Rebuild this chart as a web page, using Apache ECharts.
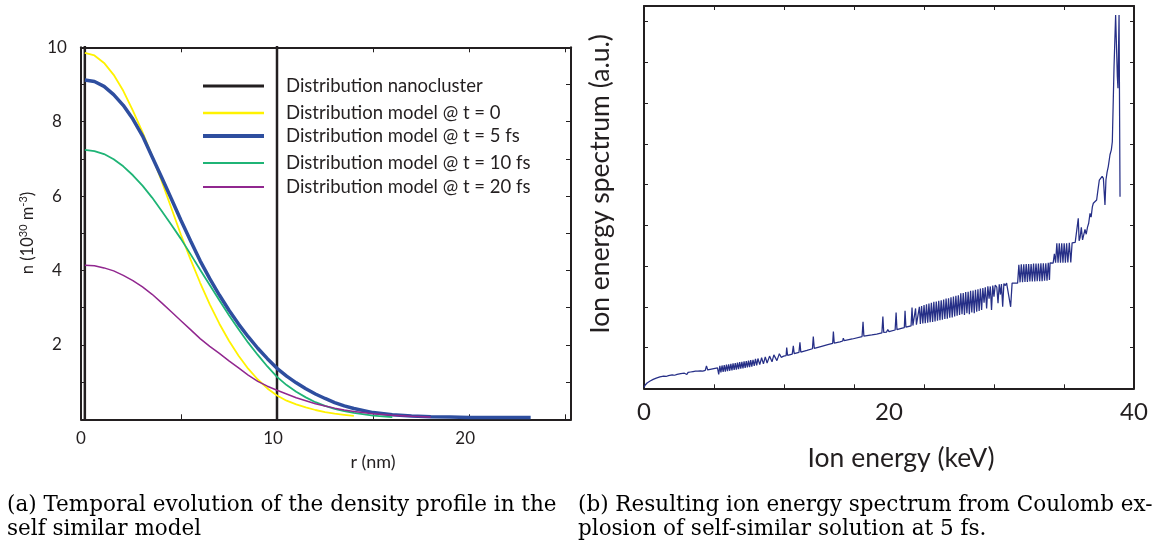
<!DOCTYPE html>
<html><head><meta charset="utf-8">
<script src="https://cdn.jsdelivr.net/npm/echarts@6/dist/echarts.min.js"></script>
<style>html,body{margin:0;padding:0;background:#fff}#c{width:1159px;height:547px}</style>
</head><body><div id="c"></div>
<script>
// ---------- Panel (a): density profiles ----------
const radius = [0,0.5,1,1.5,2,2.5,3,3.5,4,4.5,5,5.5,6,6.5,7,7.5,8,8.5,9,9.5,10,10.5,11,11.5,12,12.5,13,13.5,14,15,16,17,18,19,20,21,22,23.2];
const nT0  = [9.85,9.78,9.58,9.26,8.83,8.30,7.72,7.08,6.40,5.68,4.96,4.30,3.67,3.09,2.57,2.11,1.71,1.36,1.07,0.83,0.64,0.50,0.40,0.32,0.25,0.19,0.15,0.12,0.09];
const nT5  = [9.12,9.08,8.95,8.73,8.44,8.07,7.62,7.06,6.50,5.93,5.35,4.80,4.26,3.78,3.34,2.93,2.56,2.22,1.91,1.63,1.37,1.16,0.98,0.82,0.68,0.56,0.45,0.36,0.29,0.18,0.12,0.09,0.07,0.06,0.05,0.05,0.05,0.05];
const nT10 = [7.24,7.21,7.13,6.99,6.80,6.56,6.28,5.96,5.60,5.23,4.85,4.44,4.02,3.61,3.20,2.80,2.42,2.06,1.73,1.42,1.14,0.92,0.74,0.59,0.46,0.36,0.28,0.22,0.17,0.10,0.06];
const nT20 = [4.14,4.13,4.07,3.99,3.87,3.73,3.56,3.36,3.13,2.89,2.65,2.41,2.17,1.96,1.77,1.57,1.38,1.19,1.02,0.89,0.78,0.68,0.58,0.50,0.42,0.36,0.30,0.25,0.21,0.15,0.11,0.08,0.06];
const nanoR = [0,0,10,10];
const nanoN = [0,11,11,0];
const seriesNames = ['Distribution nanocluster','Distribution model @ t = 0','Distribution model @ t = 5 fs','Distribution model @ t = 10 fs','Distribution model @ t = 20 fs'];
const seriesColors = ['#231f20','#fff200','#2e4e9f','#1fb476','#91278f'];
const rTicks = [0,5,10,15,20,25];
const rLabels = [0,10,20];
const nLabels = [2,4,6,8,10];

// ---------- Panel (b): ion energy spectrum ----------
const specLow = [[0,0.02],[0.1,0.08],[0.25,0.13],[0.5,0.18],[0.75,0.22],[1,0.25],[1.3,0.28],[1.6,0.3],[1.8,0.29],[1.9,0.33],[2.0,0.31],[2.3,0.33],[2.5,0.32],[2.6,0.36],[2.7,0.34],[3.0,0.36],[3.3,0.37],[3.5,0.34],[3.6,0.39],[3.7,0.35],[3.8,0.4],[3.9,0.36],[4.0,0.41],[4.1,0.37],[4.2,0.42],[4.3,0.38],[4.4,0.42],[4.5,0.39],[4.6,0.43],[4.8,0.42],[5.0,0.44],[5.1,0.55],[5.2,0.45],[5.5,0.47],[5.8,0.49],[6.0,0.5]];
const specCombA = [[6.1,0.34],[6.19,0.55],[6.28,0.39],[6.37,0.56],[6.46,0.40],[6.55,0.57],[6.64,0.41],[6.73,0.58],[6.82,0.42],[6.91,0.59],[7.0,0.43],[7.09,0.60],[7.18,0.44],[7.27,0.61],[7.36,0.45],[7.45,0.62],[7.54,0.46],[7.63,0.63],[7.72,0.47],[7.81,0.64],[7.9,0.48],[7.99,0.65],[8.08,0.49],[8.17,0.66],[8.26,0.50],[8.35,0.67],[8.44,0.51],[8.53,0.68],[8.62,0.52],[8.71,0.69],[8.8,0.53],[8.9,0.70],[9.0,0.55],[9.1,0.72],[9.2,0.56],[9.3,0.73],[9.45,0.58],[9.6,0.75],[9.75,0.60],[9.9,0.77],[10.05,0.62],[10.25,0.79],[10.45,0.65],[10.6,0.82],[10.85,0.68],[11.05,0.85],[11.2,0.76]];
const specMid = [[11.4,0.79],[11.6,0.80],[11.65,1.0],[11.72,0.81],[12.1,0.84],[12.19,1.04],[12.26,0.85],[12.65,0.88],[12.73,1.13],[12.8,0.89],[13.3,0.93],[13.75,0.97],[13.82,1.27],[13.9,0.98],[14.5,1.03],[15.0,1.07],[15.4,1.10],[15.46,1.39],[15.53,1.11],[16.0,1.14],[16.22,1.16],[16.27,1.23],[16.35,1.17],[17.0,1.21],[17.8,1.27],[17.88,1.63],[17.95,1.28],[18.6,1.31],[19.0,1.33],[19.42,1.36],[19.5,1.76],[19.57,1.37],[19.8,1.38],[19.9,1.44],[20.0,1.39],[20.5,1.43],[20.58,1.86],[20.65,1.44],[21.0,1.47],[21.25,1.49],[21.31,1.9],[21.38,1.5],[21.8,1.53],[21.88,1.98],[21.95,1.54],[22.1,1.55],[22.17,1.96],[22.24,1.56]];
const specCombB = [[22.4,1.57],[22.48,2.0],[22.56,1.58],[22.66,2.02],[22.76,1.59],[22.86,2.04],[22.96,1.6],[23.06,2.06],[23.16,1.61],[23.26,2.08],[23.36,1.62],[23.46,2.1],[23.56,1.63],[23.66,2.12],[23.76,1.64],[23.86,2.13],[23.96,1.66],[24.06,2.15],[24.16,1.67],[24.26,2.16],[24.36,1.68],[24.46,2.18],[24.56,1.7],[24.66,2.2],[24.76,1.71],[24.86,2.21],[24.96,1.73],[25.06,2.23],[25.16,1.74],[25.26,2.25],[25.36,1.76],[25.46,2.27],[25.56,1.78],[25.66,2.28],[25.76,1.8]];
const specDense = [[25.86,2.33],[25.96,1.82],[26.06,2.34],[26.16,1.8],[26.26,2.36],[26.36,1.84],[26.46,2.37],[26.56,1.82],[26.66,2.39],[26.76,1.86],[26.86,2.4],[26.96,1.84],[27.06,2.42],[27.16,1.88],[27.26,2.43],[27.36,1.9],[27.46,2.45],[27.56,1.92],[27.66,2.46]];
const specDips = [[27.76,2.1],[27.86,2.48],[27.97,1.96],[28.07,2.5],[28.17,2.2],[28.27,2.5],[28.37,1.92],[28.47,2.52],[28.57,2.25],[28.67,2.53],[28.8,2.48],[28.9,2.09],[29.0,2.55],[29.1,2.3],[29.18,2.56],[29.28,2.0],[29.38,2.57],[29.5,2.52],[29.6,2.58],[29.75,2.56],[29.93,2.0],[30.05,2.58],[30.5,2.58]];
const specStep1 = [[30.6,3.03],[30.7,2.6],[30.8,3.04],[30.9,2.6],[31.0,3.04],[31.1,2.61],[31.2,3.05],[31.3,2.61],[31.4,3.05],[31.5,2.62],[31.6,3.05],[31.7,2.62],[31.8,3.06],[31.9,2.62],[32.0,3.06],[32.1,2.63],[32.2,3.06],[32.3,2.63],[32.4,3.07],[32.5,2.63],[32.6,3.07],[32.7,2.64],[32.8,3.07],[32.9,2.64],[33.0,3.08],[33.1,2.66],[33.15,3.08],[33.4,3.07],[33.5,3.3],[33.6,3.08]];
const specStep2 = [[33.7,3.56],[33.8,3.08],[33.9,3.56],[34.0,3.08],[34.1,3.56],[34.2,3.08],[34.3,3.56],[34.4,3.08],[34.5,3.56],[34.6,3.09],[34.72,3.57],[34.84,3.09],[34.95,3.57],[35.2,3.58]];
const specPeak = [[35.35,3.58],[35.45,4.17],[35.52,3.62],[35.6,3.7],[35.7,3.95],[35.8,3.64],[35.9,3.66],[36.0,3.9],[36.1,3.78],[36.2,3.95],[36.3,4.05],[36.41,4.29],[36.5,4.2],[36.6,4.45],[36.68,4.54],[36.8,4.5],[36.95,4.62],[37.05,4.85],[37.17,5.11],[37.3,5.15],[37.4,5.2],[37.5,5.15],[37.63,4.5],[37.71,5.11],[37.8,5.3],[37.9,5.44],[38.04,5.73],[38.15,5.85],[38.23,6.05],[38.37,7.89],[38.5,9.16],[38.64,7.65],[38.69,7.36],[38.78,9.16],[38.86,4.70]];
const eTicks = [0,5.714,11.429,17.143,22.857,28.571,34.286,40];
const eLabels = [0,20,40];

const captionA = ['(a) Temporal evolution of the density profile in the','self similar model'];
const captionB = ['(b) Resulting ion energy spectrum from Coulomb ex-','plosion of self-similar solution at 5 fs.'];

const INK = '#231f20';
const SANS = 'Lato, "Liberation Sans", sans-serif';
const SERIF = '"DejaVu Serif", serif';

const pairs = (xs, ys) => ys.map((y, i) => [xs[i], y]);
const spectrum = [].concat(specLow, specCombA, specMid, specCombB, specDense, specDips, specStep1, specStep2, specPeak);

const chart = echarts.init(document.getElementById('c'), null, {renderer: 'canvas'});

const frameAxis = (extra) => Object.assign({
  type: 'value',
  axisLine: {show: true, onZero: false, lineStyle: {color: INK, width: 2}},
  axisTick: {show: true, inside: true, length: 5, lineStyle: {color: INK, width: 1}},
  splitLine: {show: false},
  axisLabel: {show: false}
}, extra);

const legendTops = [75, 102, 125, 152, 176];
const legendThick = [3, 2.5, 4, 2, 2];
const legends = seriesNames.map((nm, i) => ({
  show: true, data: [nm], left: 203, top: legendTops[i], orient: 'vertical',
  icon: 'rect', itemWidth: 61, itemHeight: legendThick[i], selectedMode: false,
  padding: 0,
  textStyle: {fontFamily: SANS, fontSize: 18.5, color: INK, lineHeight: 22, padding: [0,0,0,17]}
}));

const lineSeries = (name, data, color, width) => ({
  name, type: 'line', xAxisIndex: 0, yAxisIndex: 0, data, color,
  showSymbol: false, symbol: 'none', clip: true, smooth: false,
  lineStyle: {color, width}
});

chart.setOption({
  animation: false,
  backgroundColor: '#fff',
  legend: legends,
  grid: [
    {left: 81, top: 47.3, width: 490, height: 372},
    {left: 644, top: 6, width: 490, height: 382.3}
  ],
  xAxis: [
    frameAxis({gridIndex: 0, position: 'bottom', min: -0.2, max: 25.3,
      axisTick: {show: true, inside: true, length: 5, customValues: rTicks, lineStyle: {color: INK, width: 1}},
      axisLabel: {show: true, customValues: rLabels, fontFamily: SANS, fontSize: 17, color: INK, margin: 11, padding: [0,8,0,0]}}),
    frameAxis({gridIndex: 1, position: 'bottom', min: 0, max: 40,
      axisTick: {show: true, inside: true, length: 4, customValues: eTicks, lineStyle: {color: INK, width: 1}},
      axisLabel: {show: true, customValues: eLabels, fontFamily: SANS, fontSize: 24, color: INK, margin: 12}}),
    frameAxis({gridIndex: 0, position: 'top', min: -0.2, max: 25.3,
      axisTick: {show: true, inside: true, length: 5, customValues: rTicks, lineStyle: {color: INK, width: 1}}}),
    frameAxis({gridIndex: 1, position: 'top', min: 0, max: 40,
      axisTick: {show: true, inside: true, length: 4, customValues: eTicks, lineStyle: {color: INK, width: 1}}})
  ],
  yAxis: [
    frameAxis({gridIndex: 0, position: 'left', min: 0, max: 10, interval: 1,
      axisLabel: {show: true, customValues: nLabels, align: 'center', margin: 24, fontFamily: SANS, fontSize: 17, color: INK}}),
    frameAxis({gridIndex: 1, position: 'left', min: 0, max: 9.38, interval: 1,
      axisTick: {show: true, inside: true, length: 4, lineStyle: {color: INK, width: 1}}}),
    frameAxis({gridIndex: 0, position: 'right', min: 0, max: 10, interval: 1}),
    frameAxis({gridIndex: 1, position: 'right', min: 0, max: 9.38, interval: 1,
      axisTick: {show: true, inside: true, length: 4, lineStyle: {color: INK, width: 1}}})
  ],
  series: [
    lineSeries(seriesNames[0], pairs(nanoR, nanoN), seriesColors[0], 2.5),
    lineSeries(seriesNames[1], pairs(radius, nT0), seriesColors[1], 1.8),
    lineSeries(seriesNames[2], pairs(radius, nT5), seriesColors[2], 3.5),
    lineSeries(seriesNames[3], pairs(radius, nT10), seriesColors[3], 1.8),
    lineSeries(seriesNames[4], pairs(radius, nT20), seriesColors[4], 1.5),
    {name: 'spectrum', type: 'line', xAxisIndex: 1, yAxisIndex: 1, data: spectrum,
     showSymbol: false, symbol: 'none', color: '#262f87', lineStyle: {color: '#262f87', width: 1.25}}
  ],
  graphic: [
    {type: 'text', x: 28, y: 233, rotation: Math.PI / 2,
     style: {text: '{a|n (10}{s|30}{a| m}{s|-3}{a|)}', align: 'center', verticalAlign: 'middle',
       rich: {a: {fontFamily: SANS, fontSize: 16.5, fill: INK, lineHeight: 20},
              s: {fontFamily: SANS, fontSize: 11, fill: INK, verticalAlign: 'top', lineHeight: 20, padding: [0,0,7,0]}}}},
    {type: 'text', x: 373, y: 462, style: {text: 'r (nm)', align: 'center', verticalAlign: 'middle', fontFamily: SANS, fontSize: 18, fill: INK}},
    {type: 'text', x: 600, y: 184, rotation: Math.PI / 2,
     style: {text: 'Ion energy spectrum (a.u.)', align: 'center', verticalAlign: 'middle', fontFamily: SANS, fontSize: 26.5, fill: INK}},
    {type: 'text', x: 901, y: 458, style: {text: 'Ion energy (keV)', align: 'center', verticalAlign: 'middle', fontFamily: SANS, fontSize: 26.5, fill: INK}},
    {type: 'text', x: 7, y: 505, style: {text: captionA[0], align: 'left', verticalAlign: 'middle', fontFamily: SERIF, fontSize: 21.5, fill: '#000'}},
    {type: 'text', x: 7, y: 529, style: {text: captionA[1], align: 'left', verticalAlign: 'middle', fontFamily: SERIF, fontSize: 21.5, fill: '#000'}},
    {type: 'text', x: 578, y: 505, style: {text: captionB[0], align: 'left', verticalAlign: 'middle', fontFamily: SERIF, fontSize: 21.5, fill: '#000'}},
    {type: 'text', x: 578, y: 529, style: {text: captionB[1], align: 'left', verticalAlign: 'middle', fontFamily: SERIF, fontSize: 21.5, fill: '#000'}}
  ]
});
</script></body></html>
